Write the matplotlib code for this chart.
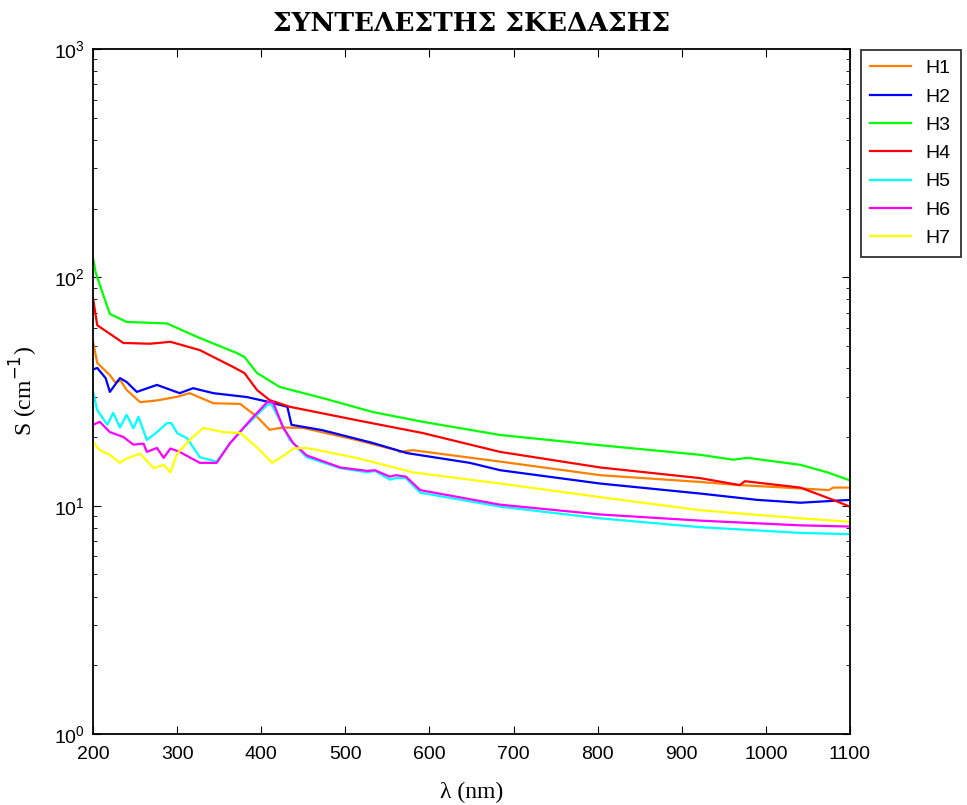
import matplotlib.pyplot as plt

# wavelength (nm) and scattering coefficient S (cm^-1)
lam_h1 = [200, 205, 220, 226, 233, 240, 256, 276, 300, 315, 343, 375, 395, 410, 426, 450, 513, 561, 565, 580, 684, 803, 922, 970, 1041, 1075, 1080, 1100]
s_h1 = [52.2, 42.2, 37.3, 34.8, 35.2, 32.1, 28.4, 28.9, 30, 31.1, 28.1, 27.9, 24.5, 21.5, 22, 21.9, 19.4, 17.5, 17.2, 17.5, 15.6, 13.6, 12.7, 12.3, 11.9, 11.7, 12.0, 12.0]

lam_h2 = [200, 205, 215, 220, 232, 240, 252, 276, 303, 319, 343, 383, 410, 431, 436, 473, 533, 573, 648, 684, 803, 922, 990, 1041, 1080, 1100]
s_h2 = [39.5, 40.1, 36.2, 31.5, 36.2, 34.8, 31.5, 33.8, 31.1, 32.7, 31.1, 29.9, 28.4, 27.1, 22.6, 21.4, 18.8, 17.0, 15.4, 14.3, 12.5, 11.3, 10.6, 10.3, 10.5, 10.6]

lam_h3 = [200, 203, 210, 220, 240, 288, 324, 371, 380, 395, 422, 473, 533, 592, 684, 803, 922, 961, 978, 1041, 1073, 1100]
s_h3 = [121.6, 105.5, 88.3, 69.1, 63.8, 62.8, 54.8, 46.6, 44.8, 38.1, 33.1, 29.6, 25.7, 23.3, 20.4, 18.4, 16.7, 15.9, 16.2, 15.1, 14.0, 12.9]

lam_h4 = [200, 205, 236, 268, 292, 327, 366, 380, 395, 410, 434, 513, 592, 684, 803, 922, 969, 975, 1041, 1080, 1100]
s_h4 = [81, 61.7, 51.6, 51.2, 52.2, 48, 40.6, 38.1, 32.1, 29, 27.1, 23.7, 20.8, 17.2, 14.7, 13.2, 12.3, 12.8, 12.0, 10.6, 9.9]

lam_h5 = [200, 205, 217, 224, 232, 240, 248, 254, 264, 276, 288, 293, 300, 312, 327, 347, 363, 383, 407, 412, 422, 434, 454, 494, 526, 535, 553, 560, 572, 589, 684, 803, 922, 1041, 1100]
s_h5 = [31.5, 26.2, 22.6, 25.5, 22, 25, 21.8, 24.5, 19.4, 21, 23, 23, 20.8, 19.7, 16.3, 15.6, 18.8, 22.6, 27.6, 27.9, 23.7, 19.4, 16.3, 14.6, 14, 14.2, 13, 13.2, 13.2, 11.4, 9.9, 8.8, 8.05, 7.6, 7.5]

lam_h6 = [200, 208, 220, 236, 248, 260, 264, 276, 284, 292, 303, 327, 347, 363, 387, 407, 414, 426, 438, 454, 494, 526, 535, 553, 560, 572, 589, 684, 803, 922, 1041, 1100]
s_h6 = [22.6, 23.3, 21, 20, 18.5, 18.7, 17.2, 17.9, 16.2, 17.8, 17.2, 15.4, 15.4, 18.8, 23.7, 28.4, 28.4, 22, 18.8, 16.6, 14.7, 14.2, 14.3, 13.4, 13.6, 13.4, 11.7, 10.1, 9.15, 8.6, 8.2, 8.1]

lam_h7 = [200, 208, 220, 232, 240, 256, 272, 284, 292, 300, 315, 331, 355, 375, 395, 413, 426, 438, 454, 513, 561, 580, 684, 803, 922, 1041, 1100]
s_h7 = [19, 17.5, 16.7, 15.4, 16.1, 16.9, 14.6, 15.1, 14, 16.9, 19.4, 21.9, 21, 20.8, 18, 15.4, 16.5, 17.8, 17.9, 16.2, 14.6, 14, 12.5, 10.9, 9.55, 8.8, 8.5]

series = [
    ("H1", lam_h1, s_h1, "#ff8000"),
    ("H2", lam_h2, s_h2, "#0000ff"),
    ("H3", lam_h3, s_h3, "#00ff00"),
    ("H4", lam_h4, s_h4, "#ff0000"),
    ("H5", lam_h5, s_h5, "#00ffff"),
    ("H6", lam_h6, s_h6, "#ff00ff"),
    ("H7", lam_h7, s_h7, "#ffff00"),
]

plt.rcParams['font.family'] = ['Liberation Sans', 'DejaVu Sans']

fig = plt.figure(figsize=(9.67, 8.05), dpi=100)
ax = fig.add_axes([0.0962, 0.0882, 0.7828, 0.8509])

for name, x, y, c in series:
    ax.plot(x, y, color=c, linewidth=1.6, label=name)

ax.set_yscale("log")
ax.set_xlim(200, 1100)
ax.set_ylim(1, 1000)
ax.set_xticks(range(200, 1101, 100))
ax.tick_params(which="both", direction="in", top=True, right=True, labelsize=14)
ax.tick_params(which="major", length=6)
ax.tick_params(which="minor", length=3)
ax.tick_params(axis="x", pad=9)
ax.tick_params(axis="y", pad=6)
for s in ax.spines.values():
    s.set_linewidth(1.3)

ax.set_title("ΣΥΝΤΕΛΕΣΤΗΣ ΣΚΕΔΑΣΗΣ", family="DejaVu Serif", fontweight="bold", fontsize=19, pad=13)
ax.set_xlabel("λ (nm)", family="Liberation Serif", fontsize=17, labelpad=13)
ax.set_ylabel("S (cm$^{-1}$)", family="Liberation Serif", fontsize=17, labelpad=10)

leg = ax.legend(loc="upper left", bbox_to_anchor=(0.890, 0.938), bbox_transform=fig.transFigure,
                fontsize=14, fancybox=False, edgecolor="black", handlelength=2.1,
                handletextpad=0.75, labelspacing=0.55, borderpad=0.5, borderaxespad=0)
leg.get_frame().set_linewidth(1.3)

fig.savefig("out.png", dpi=100)
